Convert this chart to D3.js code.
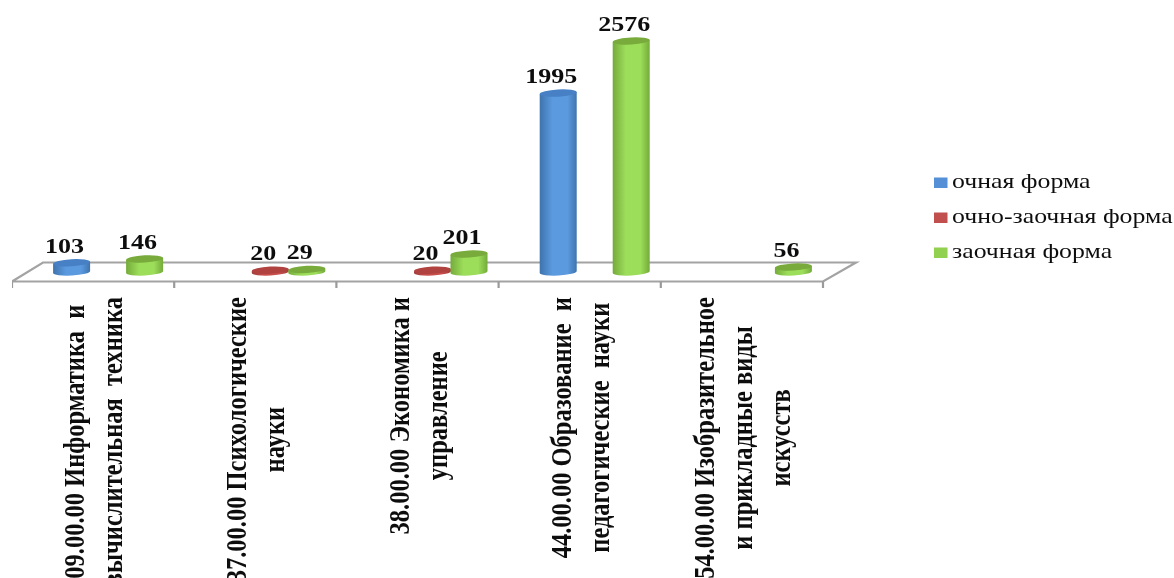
<!DOCTYPE html>
<html>
<head>
<meta charset="utf-8">
<script src="https://cdn.jsdelivr.net/npm/d3@7"></script>
<style>
html, body { margin: 0; padding: 0; background: #fff; overflow: hidden; }
text { font-family: "Liberation Serif", serif; white-space: pre; fill: #111; }
</style>
</head>
<body>
<script>
const categories = ['09.00.00', '37.00.00', '38.00.00', '44.00.00', '54.00.00'];
const categoryLines = [
    ['09.00.00 Информатика  и', 'вычислительная  техника'],
    ['37.00.00 Психологические', 'науки'],
    ['38.00.00 Экономика и', 'управление'],
    ['44.00.00 Образование  и', 'педагогические  науки'],
    ['54.00.00 Изобразительное', 'и прикладные виды', 'искусств']
];
const seriesNames = ['очная форма', 'очно-заочная форма', 'заочная форма'];
const fullTime = [103, null, null, 1995, null];
const mixed = [null, 20, 20, null, null];
const correspondence = [146, 29, 201, 2576, 56];
const seriesValues = [fullTime, mixed, correspondence];

const seriesColors = [
    { edge: '#3f74ad', mid: '#5b9ae0', top: '#4680c4', key: '#5590d6' },
    { edge: '#a03d3a', mid: '#c9504d', top: '#b0423f', key: '#c0504d' },
    { edge: '#74ab3a', mid: '#9cdd5a', top: '#78ab3a', key: '#92d050' }
];

const w = 1174,
      h = 578,
      rx = 18.5,
      ry = 3.6,
      tilt = 1,
      depth = 32;

const svg = d3.select('body')
    .append('svg')
    .attr('width', w)
    .attr('height', h)
    .style('display', 'block');

const defs = svg.append('defs');
defs.append('filter')
    .attr('id', 'soft')
    .attr('x', 0).attr('y', 0).attr('width', 1).attr('height', 1)
    .attr('filterUnits', 'objectBoundingBox')
    .append('feGaussianBlur')
    .attr('stdDeviation', 0.55);

seriesColors.forEach((c, i) => {
    const g = defs.append('linearGradient').attr('id', 'side' + i);
    g.append('stop').attr('offset', '0%').attr('stop-color', c.edge);
    g.append('stop').attr('offset', '35%').attr('stop-color', c.mid);
    g.append('stop').attr('offset', '75%').attr('stop-color', c.mid);
    g.append('stop').attr('offset', '100%').attr('stop-color', c.edge);
});

const root = svg.append('g').attr('filter', 'url(#soft)');

const xScale = d3.scaleBand()
    .domain(categories)
    .range([12, 823]);

const seriesScale = d3.scalePoint()
    .domain(seriesNames)
    .range([-36.5, 36.5]);

const yScale = d3.scaleLinear()
    .domain([0, 2576])
    .range([272, 41]);

// floor of the 3d chart
const floorY = 281.5;
const xEnd = xScale.range()[1];
const xStart = xScale.range()[0];
root.append('path')
    .attr('d', `M${xStart},${floorY}L${xStart + depth - 1},${floorY - 19}L${xEnd + depth + 1},${floorY - 19}L${xEnd},${floorY}Z`)
    .attr('fill', 'none')
    .attr('stroke', '#a3a3a3')
    .attr('stroke-width', 2.2);

root.selectAll('.tick-mark')
    .data(categories.map(c => xScale(c)).concat([xEnd]))
    .enter()
    .append('line')
    .attr('class', 'tick-mark')
    .attr('x1', d => d)
    .attr('x2', d => d)
    .attr('y1', floorY)
    .attr('y2', floorY + 6.5)
    .attr('stroke', '#9a9a9a')
    .attr('stroke-width', 2.2);

// cylinders
const cx = (ci, si) => xScale(categories[ci]) + xScale.bandwidth() / 2 + 15 + seriesScale(seriesNames[si]);

seriesValues.forEach((values, si) => {
    const g = root.append('g').attr('class', 'series');
    const points = values
        .map((v, ci) => ({ v, ci }))
        .filter(d => d.v !== null);

    g.selectAll('path')
        .data(points)
        .enter()
        .append('path')
        .attr('d', d => {
            const x = cx(d.ci, si), y0 = yScale(0), y1 = yScale(d.v);
            return `M${x - rx},${y1 + tilt}L${x - rx},${y0 + tilt}` +
                `A${rx},${ry} -3 0 0 ${x + rx},${y0 - tilt}L${x + rx},${y1 - tilt}Z`;
        })
        .attr('fill', `url(#side${si})`);

    g.selectAll('ellipse')
        .data(points)
        .enter()
        .append('ellipse')
        .attr('cx', d => cx(d.ci, si))
        .attr('cy', d => yScale(d.v))
        .attr('rx', rx)
        .attr('ry', ry)
        .attr('transform', d => `rotate(-3 ${cx(d.ci, si)} ${yScale(d.v)})`)
        .attr('fill', seriesColors[si].top);

    // value labels, source picture is stretched sideways
    g.selectAll('text')
        .data(points)
        .enter()
        .append('text')
        .attr('transform', d => `translate(${cx(d.ci, si) - 7},${yScale(d.v) - 10}) scale(1.24,1)`)
        .attr('text-anchor', 'middle')
        .attr('font-size', 21)
        .attr('font-weight', 'bold')
        .text(d => d.v);
});

// category labels, rotated, block top aligned below the axis
const labelTop = 297,
      lineGap = 38;

categories.forEach((c, ci) => {
    const lines = categoryLines[ci];
    const center = xScale(c) + xScale.bandwidth() / 2;
    const texts = root.append('g').attr('class', 'cat-label')
        .selectAll('text')
        .data(lines)
        .enter()
        .append('text')
        .attr('text-anchor', 'middle')
        .attr('font-size', 24.5)
        .attr('font-weight', 'bold')
        .text(d => d);
    const longest = d3.max(texts.nodes(), n => n.getComputedTextLength());
    texts.attr('transform', (d, i) => {
        const x = center + (i - (lines.length - 1) / 2) * lineGap + 10;
        return `translate(${x},${labelTop + longest / 2}) rotate(-90) scale(1,1.22)`;
    });
});

// legend
const legendY = d3.scalePoint()
    .domain(seriesNames)
    .range([183, 253]);

const legend = root.append('g').attr('class', 'legend');
legend.selectAll('rect')
    .data(seriesNames)
    .enter()
    .append('rect')
    .attr('x', 934)
    .attr('y', d => legendY(d) - 5.5)
    .attr('width', 13.5)
    .attr('height', 10.5)
    .attr('fill', (d, i) => seriesColors[i].key);

legend.selectAll('text')
    .data(seriesNames)
    .enter()
    .append('text')
    .attr('transform', d => `translate(952,${legendY(d) + 5}) scale(1.29,1)`)
    .attr('font-size', 20)
    .text(d => d);
</script>
</body>
</html>
